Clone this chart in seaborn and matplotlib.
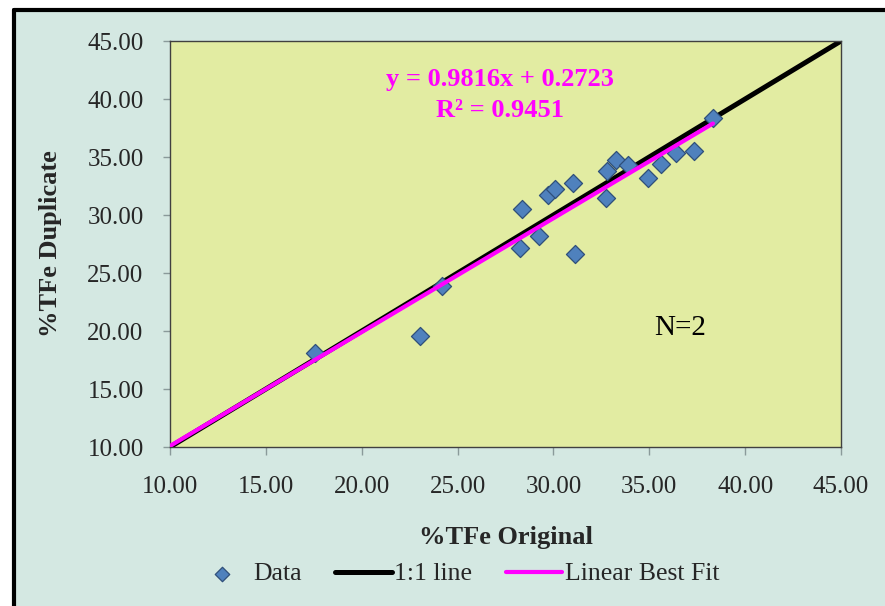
import numpy as np
import pandas as pd
import matplotlib
matplotlib.use('Agg')
import matplotlib.pyplot as plt
import seaborn as sns
from matplotlib.patches import Rectangle
from matplotlib.lines import Line2D

# Values
tfe_original = [17.55, 23.02, 24.17, 28.24, 28.36, 29.23, 29.71, 30.07, 31.01, 31.15,
                32.76, 32.81, 33.28, 33.88, 34.93, 35.59, 36.41, 37.32, 38.32]
tfe_duplicate = [18.12, 19.59, 23.90, 27.16, 30.54, 28.23, 31.69, 32.27, 32.79, 26.65,
                 31.49, 33.79, 34.71, 34.34, 33.19, 34.43, 35.35, 35.52, 38.32]
one_to_one = [10.0, 45.0]
fit_slope = 0.9816
fit_intercept = 0.2723
fit_range = [10.0, 38.32]
axis_ticks = [10, 15, 20, 25, 30, 35, 40, 45]

df = pd.DataFrame({'Original': tfe_original, 'Duplicate': tfe_duplicate})
line_df = pd.DataFrame({'x': one_to_one, 'y': one_to_one})
fit_df = pd.DataFrame({'x': fit_range})
fit_df['y'] = fit_slope * fit_df['x'] + fit_intercept

sns.set_style('ticks')
plt.rcParams['font.family'] = ['Liberation Serif', 'DejaVu Serif']

bg = '#d4e8e2'
plot_bg = '#e2eca2'

fig = plt.figure(figsize=(8.85, 6.06), dpi=100, facecolor='white')
# light panel with black top/left edge like the original screenshot
fig.add_artist(Rectangle((13 / 885, 0), 1 - 13 / 885, 1 - 10 / 606,
                         transform=fig.transFigure, facecolor=bg, edgecolor='none', zorder=-10))
fig.add_artist(Line2D([13.5 / 885, 13.5 / 885], [0, 1 - 10 / 606], transform=fig.transFigure,
                      color='black', lw=3.0))
fig.add_artist(Line2D([13.5 / 885, 1], [1 - 10 / 606, 1 - 10 / 606], transform=fig.transFigure,
                      color='black', lw=3.0))

ax = fig.add_axes([170 / 885, 1 - 447 / 606, (841 - 170) / 885, (447 - 41) / 606])
ax.set_facecolor(plot_bg)

sns.lineplot(data=line_df, x='x', y='y', color='black', linewidth=3.6,
             label='1:1 line', ax=ax, zorder=2)
sns.scatterplot(data=df, x='Original', y='Duplicate', marker='D', s=85,
                color='#4f81bd', edgecolor='#2f4f7a', linewidth=0.9,
                label='Data', ax=ax, zorder=3)
sns.lineplot(data=fit_df, x='x', y='y', color='#ff00ff', linewidth=3.0,
             label='Linear Best Fit', ax=ax, zorder=4)

ax.set_xlim(10, 45)
ax.set_ylim(10, 45)
ax.set_xticks(axis_ticks)
ax.set_yticks(axis_ticks)
ax.set_xticklabels([f'{t:.2f}' for t in axis_ticks])
ax.set_yticklabels([f'{t:.2f}' for t in axis_ticks])
ax.tick_params(axis='y', direction='out', length=5, width=1, color='#8a9a9a',
               pad=14, labelsize=18)
ax.tick_params(axis='x', direction='out', length=6, width=1, color='#8a9a9a',
               pad=15, labelsize=18)
for sp in ax.spines.values():
    sp.set_color('#404040')
    sp.set_linewidth(1.0)

ax.set_xlabel('%TFe Original', fontsize=19, fontweight='bold', labelpad=20)
ax.set_ylabel('%TFe Duplicate', fontsize=19, fontweight='bold', labelpad=18)

ax.text(0.492, 0.904, 'y = 0.9816x + 0.2723', transform=ax.transAxes, ha='center', va='center',
        color='#ff00ff', fontsize=19, fontweight='bold')
ax.text(0.492, 0.830, 'R² = 0.9451', transform=ax.transAxes, ha='center', va='center',
        color='#ff00ff', fontsize=19, fontweight='bold')
ax.text(0.76, 0.293, 'N=2', transform=ax.transAxes, ha='center', va='center',
        color='black', fontsize=21)

handles, labels = ax.get_legend_handles_labels()
order = [labels.index('Data'), labels.index('1:1 line'), labels.index('Linear Best Fit')]
ax.get_legend().remove()
fig.legend([handles[i] for i in order], [labels[i] for i in order],
           loc='center', bbox_to_anchor=(0.516, 1 - 574 / 606), ncol=3, frameon=False,
           fontsize=18.5, handlelength=2.2, handletextpad=0.1, columnspacing=1.3,
           markerscale=0.8)

fig.savefig('out.png', dpi=100, facecolor=fig.get_facecolor())
